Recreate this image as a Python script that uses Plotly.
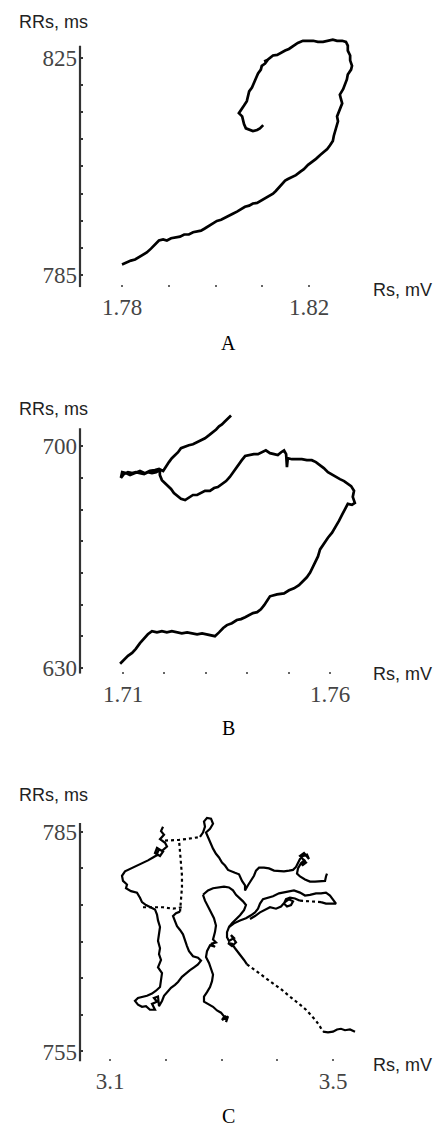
import plotly.graph_objects as go

# ---------------- data ----------------
# Panel A: Rs (mV) vs RRs (ms)
a_rs = [1.7800, 1.7809, 1.7819, 1.7828, 1.7836, 1.7845, 1.7853, 1.7862, 1.7871, 1.7879,
        1.7888, 1.7896, 1.7905, 1.7913, 1.7924, 1.7933, 1.7943, 1.7952, 1.7960, 1.7969,
        1.7977, 1.7986, 1.7995, 1.8003, 1.8012, 1.8020, 1.8029, 1.8037, 1.8046, 1.8055,
        1.8063, 1.8072, 1.8080, 1.8089, 1.8097, 1.8106, 1.8114, 1.8123, 1.8129, 1.8136,
        1.8142, 1.8149, 1.8155, 1.8164, 1.8172, 1.8181, 1.8189, 1.8198, 1.8206, 1.8215,
        1.8224, 1.8232, 1.8239, 1.8245, 1.8251, 1.8253, 1.8256, 1.8260, 1.8262, 1.8260,
        1.8264, 1.8266, 1.8271, 1.8268, 1.8266, 1.8273, 1.8277, 1.8281, 1.8283, 1.8290,
        1.8292, 1.8288, 1.8288, 1.8283, 1.8283, 1.8279, 1.8271, 1.8260, 1.8251, 1.8241,
        1.8230, 1.8219, 1.8209, 1.8198, 1.8187, 1.8176, 1.8168, 1.8157, 1.8149, 1.8140,
        1.8132, 1.8123, 1.8117, 1.8110, 1.8104, 1.8112, 1.8106, 1.8099, 1.8097, 1.8091,
        1.8087, 1.8082, 1.8078, 1.8072, 1.8070, 1.8067, 1.8061, 1.8055, 1.8050, 1.8057,
        1.8059, 1.8061, 1.8065, 1.8072, 1.8080, 1.8089, 1.8095, 1.8102]
a_rr = [787.0, 787.4, 787.7, 787.9, 788.3, 788.7, 789.2, 789.9, 790.7, 791.4,
        791.6, 791.4, 791.8, 791.9, 792.1, 792.5, 792.5, 792.9, 793.0, 793.2,
        793.6, 794.1, 794.7, 795.0, 795.2, 795.6, 796.0, 796.3, 796.7, 797.1,
        797.6, 797.8, 798.2, 798.3, 798.7, 799.1, 799.4, 800.0, 800.5, 801.1,
        801.8, 802.4, 802.7, 803.1, 803.4, 804.0, 804.5, 805.3, 805.8, 806.4,
        807.1, 807.6, 808.2, 808.9, 809.7, 810.6, 811.5, 812.4, 813.3, 814.2,
        815.0, 815.7, 816.6, 817.5, 818.2, 819.2, 820.1, 821.0, 821.9, 822.8,
        823.5, 824.5, 825.4, 826.3, 827.2, 827.9, 828.1, 828.1, 828.3, 828.1,
        827.9, 827.9, 828.1, 828.1, 828.1, 827.7, 827.2, 826.6, 826.3, 825.9,
        825.5, 825.4, 825.0, 824.5, 824.3, 824.6, 823.9, 823.5, 822.8, 822.1,
        821.3, 820.4, 819.5, 818.8, 817.9, 817.0, 816.2, 815.3, 814.8, 814.2,
        813.5, 812.8, 812.0, 811.7, 811.5, 811.7, 812.0, 812.6]

# Panel B
b_rs = [1.7093, 1.7102, 1.7112, 1.7122, 1.7131, 1.7141, 1.7151, 1.7160, 1.7170, 1.7182,
        1.7194, 1.7206, 1.7218, 1.7230, 1.7242, 1.7255, 1.7267, 1.7279, 1.7291, 1.7303,
        1.7315, 1.7322, 1.7332, 1.7342, 1.7351, 1.7363, 1.7375, 1.7385, 1.7395, 1.7404,
        1.7414, 1.7424, 1.7433, 1.7441, 1.7448, 1.7455, 1.7472, 1.7489, 1.7501, 1.7513,
        1.7525, 1.7535, 1.7544, 1.7552, 1.7559, 1.7566, 1.7571, 1.7576, 1.7585, 1.7595,
        1.7605, 1.7614, 1.7622, 1.7629, 1.7636, 1.7643, 1.7653, 1.7660, 1.7655, 1.7658,
        1.7651, 1.7641, 1.7634, 1.7624, 1.7614, 1.7605, 1.7595, 1.7585, 1.7576, 1.7566,
        1.7556, 1.7544, 1.7532, 1.7520, 1.7508, 1.7498, 1.7496, 1.7494, 1.7489, 1.7482,
        1.7474, 1.7465, 1.7455, 1.7445, 1.7436, 1.7426, 1.7416, 1.7404, 1.7395, 1.7387,
        1.7380, 1.7373, 1.7366, 1.7358, 1.7349, 1.7339, 1.7329, 1.7320, 1.7310, 1.7298,
        1.7288, 1.7279, 1.7269, 1.7259, 1.7250, 1.7240, 1.7230, 1.7223, 1.7216, 1.7209,
        1.7201, 1.7194, 1.7189, 1.7189, 1.7180, 1.7170, 1.7160, 1.7151, 1.7141, 1.7131,
        1.7122, 1.7112, 1.7102, 1.7095, 1.7098, 1.7107, 1.7117, 1.7129, 1.7141, 1.7153,
        1.7165, 1.7177, 1.7187, 1.7197, 1.7204, 1.7211, 1.7218, 1.7226, 1.7233, 1.7240,
        1.7250, 1.7259, 1.7269, 1.7279, 1.7288, 1.7298, 1.7308, 1.7317, 1.7325, 1.7332,
        1.7339, 1.7346, 1.7354, 1.7361]
b_rr = [631.3, 632.5, 633.8, 634.7, 636.0, 637.8, 639.4, 640.6, 641.6, 641.2,
        641.6, 641.2, 641.6, 641.2, 640.9, 641.2, 640.9, 640.6, 640.9, 640.6,
        640.3, 640.0, 641.2, 642.6, 643.5, 644.1, 645.1, 645.4, 646.0, 646.6,
        647.3, 647.6, 648.5, 649.8, 651.3, 652.6, 653.2, 653.5, 654.5, 655.1,
        656.1, 657.3, 658.6, 660.1, 662.0, 663.6, 665.2, 667.4, 669.2, 671.1,
        672.7, 674.6, 676.5, 678.3, 680.2, 681.8, 681.5, 682.1, 684.0, 685.9,
        687.4, 688.4, 689.0, 689.6, 690.3, 690.9, 691.8, 693.1, 694.0, 695.0,
        695.6, 695.6, 695.9, 695.9, 695.9, 696.2, 693.4, 697.5, 698.7, 698.1,
        697.2, 697.5, 697.8, 698.7, 698.1, 697.5, 697.5, 697.2, 696.9, 695.6,
        694.3, 693.1, 691.5, 690.3, 689.0, 688.1, 687.1, 686.8, 685.9, 685.9,
        685.2, 684.6, 684.6, 683.7, 683.0, 683.4, 684.3, 685.2, 686.5, 687.4,
        688.4, 689.3, 690.9, 692.5, 691.8, 691.5, 691.8, 691.2, 691.5, 691.8,
        691.5, 691.8, 691.2, 690.0, 691.8, 691.5, 690.9, 691.5, 692.2, 691.5,
        692.2, 692.5, 692.8, 692.2, 693.7, 695.0, 696.2, 697.2, 698.1, 699.4,
        700.0, 700.3, 700.6, 701.3, 701.9, 702.5, 703.5, 704.4, 705.3, 706.3,
        706.9, 707.8, 708.8, 709.7]

# Panel C: continuous strands (None = break)
c_rs_solid = [
    # left loop and left strand
    3.1951, 3.1915, 3.1969, 3.1897, 3.1987, 3.2022, 3.1933, 3.1843, 3.1807, 3.1897,
    3.1951, 3.1879, 3.1825, 3.1861, 3.1771, 3.1682, 3.1574, 3.1466, 3.1359, 3.1269,
    3.1215, 3.1233, 3.1305, 3.1287, 3.1377, 3.1484, 3.1538, 3.1574, 3.1646, 3.1717,
    3.1807, 3.1843, 3.1861, 3.1897, 3.1879, 3.1861, 3.1897, 3.1879, 3.1915, 3.1861,
    3.1933, 3.1915, 3.1897, 3.1825, 3.1753, 3.1664, 3.1592, 3.1502, 3.1448, 3.1502,
    3.1574, 3.1646, 3.1717, 3.1807, 3.1753, 3.1843, 3.1789, 3.1861, 3.1879, 3.1933,
    3.1969, 3.2022, 3.2094, 3.2166, 3.2220, 3.2291, 3.2363, 3.2435, 3.2507, 3.2578,
    3.2632, 3.2578, 3.2489, 3.2417, 3.2381, 3.2345, 3.2309, 3.2256, 3.2202, 3.2166,
    3.2130, 3.2184, 3.2256, None,
    # top strand and upper-right arm
    3.2614, 3.2668, 3.2704, 3.2686, 3.2740, 3.2812, 3.2848, 3.2794, 3.2722, 3.2758,
    3.2794, 3.2848, 3.2901, 3.2955, 3.3009, 3.3063, 3.3117, 3.3170, 3.3242, 3.3314,
    3.3368, 3.3422, 3.3422, 3.3475, 3.3529, 3.3583, 3.3619, 3.3673, 3.3762, 3.3852,
    3.3942, 3.4031, 3.4121, 3.4211, 3.4283, 3.4336, 3.4372, 3.4408, 3.4462, 3.4534,
    3.4569, 3.4480, 3.4408, 3.4516, 3.4444, 3.4498, 3.4426, 3.4372, 3.4354, 3.4408,
    3.4498, 3.4587, 3.4677, 3.4767, 3.4857, 3.4874, 3.4892, None,
    # centre strand
    3.2668, 3.2704, 3.2758, 3.2812, 3.2865, 3.2901, 3.2883, 3.2848, 3.2901, 3.2812,
    3.2883, 3.2794, 3.2740, 3.2722, 3.2776, 3.2812, 3.2848, 3.2830, 3.2794, 3.2740,
    3.2686, 3.2686, 3.2776, 3.2848, 3.2919, 3.2991, 3.3045, 3.3099, 3.3063, 3.3009,
    3.3117, 3.3081, None,
    # centre-right loop
    3.2668, 3.2758, 3.2848, 3.2937, 3.3045, 3.3134, 3.3206, 3.3260, 3.3332, 3.3386,
    3.3439, 3.3404, 3.3332, 3.3260, 3.3188, 3.3134, 3.3099, 3.3099, 3.3134, 3.3224,
    3.3170, 3.3260, 3.3188, 3.3117, 3.3188, 3.3242, 3.3296, 3.3350, 3.3404, 3.3457,
    None,
    # tail end
    3.4821, 3.4910, 3.5000, 3.5072, 3.5143, 3.5215, 3.5305, 3.5395, None,
    # right lobe
    3.3134, 3.3224, 3.3332, 3.3439, 3.3529, 3.3601, 3.3655, 3.3691, 3.3744, 3.3834,
    3.3924, 3.4031, 3.4121, 3.4211, 3.4300, 3.4408, 3.4498, 3.4587, 3.4695, 3.4785,
    3.4874, 3.4946, 3.5000, 3.5054, 3.4964, 3.4874, 3.4785, None,
    # right cluster
    3.4408, 3.4318, 3.4229, 3.4157, 3.4121, 3.4175, 3.4247, 3.4283, 3.4211, 3.4139,
    3.4067, 3.3978, 3.3870, 3.3780, 3.3691, 3.3601, 3.3511]
c_rr_solid = [
    785.7, 785.1, 784.6, 784.0, 783.5, 783.0, 782.4, 782.8, 782.1, 781.7,
    782.3, 782.6, 781.7, 781.9, 781.5, 781.1, 780.7, 780.4, 780.0, 779.6,
    779.0, 778.3, 777.8, 777.3, 776.9, 776.7, 776.0, 775.4, 775.0, 774.7,
    774.4, 773.7, 772.9, 772.0, 771.0, 770.1, 769.1, 768.3, 767.5, 766.5,
    765.7, 764.9, 763.8, 763.3, 762.9, 762.6, 762.5, 762.3, 761.9, 761.4,
    761.1, 761.2, 760.7, 760.7, 761.5, 761.8, 762.3, 762.5, 761.2, 761.9,
    762.6, 763.1, 763.7, 764.1, 764.5, 765.2, 765.7, 766.1, 766.5, 766.9,
    767.4, 767.8, 768.0, 768.7, 769.4, 770.2, 771.0, 771.6, 772.1, 772.8,
    773.5, 773.9, 774.1, None,
    784.3, 784.9, 785.7, 786.4, 786.9, 786.8, 786.1, 785.4, 784.9, 784.2,
    783.5, 782.7, 782.0, 781.5, 780.8, 780.4, 779.8, 779.6, 779.4, 779.2,
    778.3, 777.7, 777.0, 777.7, 778.3, 779.0, 779.7, 780.1, 780.1, 780.0,
    779.7, 779.6, 779.6, 779.7, 779.8, 780.2, 780.8, 781.3, 781.7, 781.9,
    781.3, 782.1, 781.7, 780.8, 780.4, 781.2, 780.7, 780.0, 779.3, 778.9,
    778.5, 778.2, 778.2, 778.2, 778.3, 778.9, 779.3, None,
    776.4, 775.6, 774.8, 774.0, 773.2, 772.2, 771.3, 770.3, 769.9, 769.7,
    769.3, 769.5, 768.7, 767.9, 767.1, 766.3, 765.5, 764.6, 763.8, 763.1,
    762.5, 761.8, 761.4, 761.1, 760.6, 760.3, 759.8, 759.2, 759.9, 759.3,
    759.8, 759.0, None,
    776.4, 777.0, 777.3, 777.4, 777.5, 777.4, 777.0, 776.4, 775.9, 775.5,
    775.0, 774.3, 773.6, 773.1, 772.5, 772.0, 771.3, 770.6, 770.1, 770.5,
    770.9, 769.9, 769.4, 769.8, 769.7, 769.1, 768.6, 768.0, 767.5, 766.9,
    None,
    757.7, 757.6, 757.7, 758.0, 758.1, 757.9, 758.0, 757.7, None,
    772.0, 772.5, 772.9, 773.2, 773.6, 774.0, 774.5, 775.2, 775.8, 776.0,
    776.2, 776.6, 776.7, 776.9, 777.0, 776.7, 776.3, 776.4, 776.6, 776.6,
    776.7, 776.3, 775.8, 775.2, 775.2, 775.2, 775.4, None,
    775.6, 775.9, 776.0, 775.8, 775.2, 774.8, 775.0, 775.5, 775.8, 775.4,
    774.8, 774.5, 774.7, 774.4, 774.0, 773.5, 773.1]

# Panel C: sparse (dotted) stretches
c_rs_dot = [3.2256, 3.2274, 3.2291, 3.2291, 3.2274, 3.2256, 3.2238, None,
            3.1592, 3.1771, 3.1951, 3.2130, 3.2291, None,
            3.1987, 3.2112, 3.2238, 3.2363, 3.2489, 3.2614, None,
            3.3457, 3.3547, 3.3655, 3.3762, 3.3870, 3.3978, 3.4085, 3.4193, 3.4300, 3.4408,
            3.4516, 3.4605, 3.4695, 3.4767, 3.4821, None,
            3.4785, 3.4659, 3.4534, 3.4408]
c_rr_dot = [774.1, 775.8, 777.4, 779.0, 780.7, 782.3, 783.9, None,
            774.7, 774.7, 774.7, 774.5, 774.7, None,
            783.8, 783.8, 783.9, 784.0, 784.2, 784.3, None,
            766.9, 766.4, 765.9, 765.2, 764.6, 764.0, 763.4, 762.7, 762.1, 761.4,
            760.7, 760.0, 759.2, 758.4, 757.7, None,
            775.4, 775.5, 775.6, 775.6]

# axis ticks / labels
a_xticks = [1.78, 1.79, 1.80, 1.81, 1.82]
a_xlabels = ["1.78", "", "", "", "1.82"]
a_yticks = [785, 790, 795, 800, 805, 810, 815, 820, 825]
a_ylabels = ["785", "", "", "", "", "", "", "", "825"]
b_xticks = [1.71, 1.72, 1.73, 1.74, 1.75, 1.76]
b_xlabels = ["1.71", "", "", "", "", "1.76"]
b_yticks = [630, 640, 650, 660, 670, 680, 690, 700]
b_ylabels = ["630", "", "", "", "", "", "", "700"]
c_xticks = [3.1, 3.2, 3.3, 3.4, 3.5]
c_xlabels = ["3.1", "", "", "", "3.5"]
c_yticks = [755, 760, 765, 770, 775, 780, 785]
c_ylabels = ["755", "", "", "", "", "", "785"]
panel_letters = ["A", "B", "C"]

# ---------------- figure ----------------
W, H = 438, 1133
fig = go.Figure()

fig.add_trace(go.Scatter(x=a_rs, y=a_rr, mode="lines", xaxis="x", yaxis="y",
                         line=dict(color="black", width=2.7), hoverinfo="skip"))
fig.add_trace(go.Scatter(x=b_rs, y=b_rr, mode="lines", xaxis="x2", yaxis="y2",
                         line=dict(color="black", width=2.7), hoverinfo="skip"))
fig.add_trace(go.Scatter(x=c_rs_solid, y=c_rr_solid, mode="lines", xaxis="x3", yaxis="y3",
                         connectgaps=False,
                         line=dict(color="black", width=2.2), hoverinfo="skip"))
fig.add_trace(go.Scatter(x=c_rs_dot, y=c_rr_dot, mode="lines", xaxis="x3", yaxis="y3",
                         connectgaps=False,
                         line=dict(color="black", width=2.2, dash="dot"), hoverinfo="skip"))

tickfont = dict(family="Liberation Serif", size=23, color="#444")
xdom = [80 / W, 370 / W]


def ydom(top_px, bot_px):
    return [1 - bot_px / H, 1 - top_px / H]


def xaxis_cfg(rng, vals, texts, anchor):
    return dict(domain=xdom, range=rng, tickmode="array", tickvals=vals, ticktext=texts,
                ticks="inside", ticklen=2, tickwidth=2, tickcolor="#666",
                showline=False, showgrid=False, zeroline=False, anchor=anchor,
                tickfont=tickfont, ticklabelstandoff=4, fixedrange=True)


def yaxis_cfg(dom, rng, vals, texts, anchor):
    return dict(domain=dom, range=rng, tickmode="array", tickvals=vals, ticktext=texts,
                ticks="inside", ticklen=3, tickwidth=2, tickcolor="#333",
                showline=False, showgrid=False, zeroline=False, anchor=anchor,
                tickfont=tickfont, ticklabelstandoff=2, fixedrange=True)


fig.update_layout(
    width=W, height=H,
    margin=dict(l=0, r=0, t=0, b=0),
    paper_bgcolor="white", plot_bgcolor="white",
    showlegend=False,
    xaxis=xaxis_cfg([1.771016, 1.833048], a_xticks, a_xlabels, "y"),
    yaxis=yaxis_cfg(ydom(34, 289), [782.808, 829.384], a_yticks, a_ylabels, "x"),
    xaxis2=xaxis_cfg([1.699614, 1.769662], b_xticks, b_xlabels, "y2"),
    yaxis2=yaxis_cfg(ydom(410, 678), [628.117, 712.242], b_yticks, b_ylabels, "x2"),
    xaxis3=xaxis_cfg([3.046188, 3.566368], c_xticks, c_xlabels, "y3"),
    yaxis3=yaxis_cfg(ydom(815, 1068), [753.643, 787.986], c_yticks, c_ylabels, "x3"),
)

# vertical axis lines (drawn only over the labelled span, like the original)
axis_spans = [("y", 782.808, 827.19), ("y2", 628.117, 705.65), ("y3", 753.643, 786.22)]
for yref, y0, y1 in axis_spans:
    fig.add_shape(type="line", xref="paper", yref=yref, x0=80 / W, x1=80 / W, y0=y0, y1=y1,
                  line=dict(color="#333", width=2.2))

sans = dict(family="Liberation Sans", size=18, color="#222")
serif_letter = dict(family="Liberation Serif", size=20, color="black")
ylab_px = [22, 412, 800]
xlab_px = [292, 678, 1072]
letter_px = [345, 733, 1123]
for i in range(3):
    fig.add_annotation(text="RRs, ms", xref="paper", yref="paper", x=53 / W, y=1 - ylab_px[i] / H,
                       xanchor="center", yanchor="middle", showarrow=False, font=sans)
    fig.add_annotation(text="Rs, mV", xref="paper", yref="paper", x=402 / W, y=1 - xlab_px[i] / H,
                       xanchor="center", yanchor="middle", showarrow=False, font=sans)
    fig.add_annotation(text=panel_letters[i], xref="paper", yref="paper", x=228 / W,
                       y=1 - letter_px[i] / H, xanchor="center", yanchor="middle",
                       showarrow=False, font=serif_letter)

fig.write_html("out.html")
